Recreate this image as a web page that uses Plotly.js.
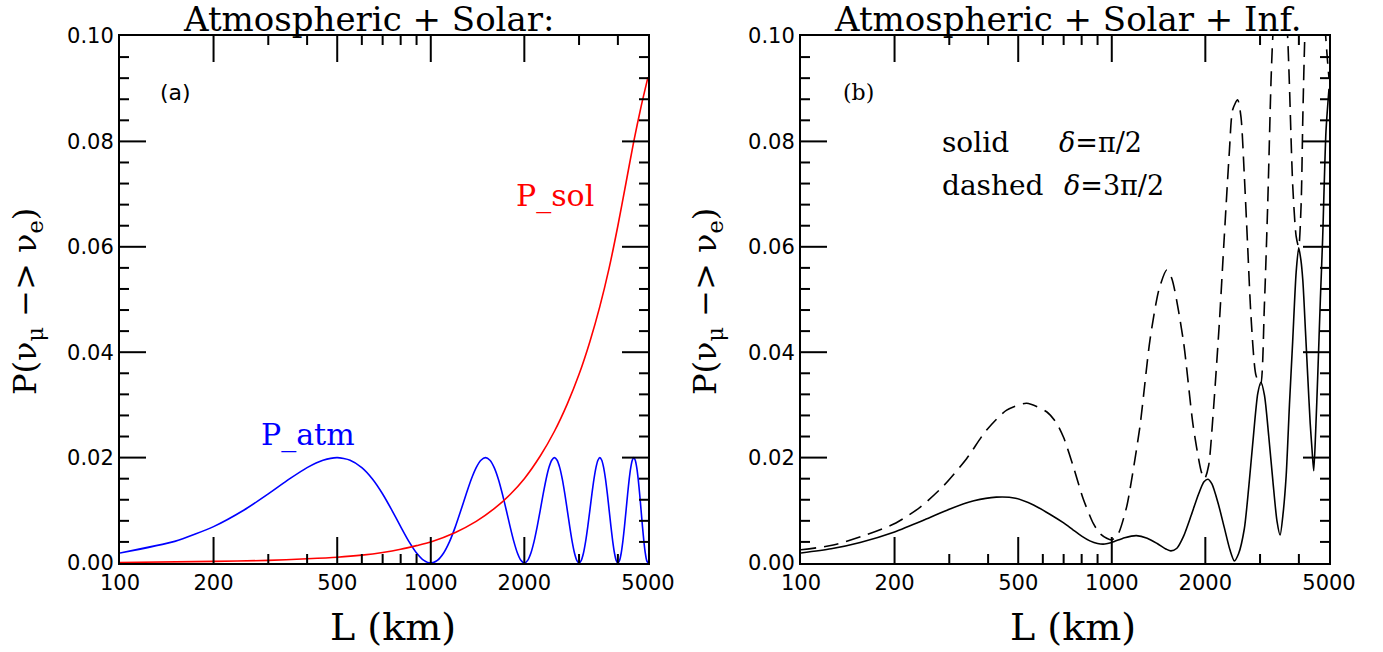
<!DOCTYPE html>
<html>
<head>
<meta charset="utf-8">
<script src="https://cdn.plot.ly/plotly-3.0.1.min.js"></script>
<style>
  html, body { margin: 0; padding: 0; background: #ffffff; }
  #chart { width: 1383px; height: 652px; }
</style>
</head>
<body>
<div id="chart"></div>
<script>
// Baseline (L in km) tick labels
const tickVals = [100, 200, 500, 1000, 2000, 5000];
const tickText = ['100', '200', '500', '1000', '2000', '5000'];

// Tick marks drawn on all four sides of each frame
const xMajorTicks = [200, 500, 1000, 2000];
const xMinorTicks = [300, 400, 600, 700, 800, 900, 3000, 4000];
const yMajorTicks = [0.02, 0.04, 0.06, 0.08];
const yMinorTicks = [0.004, 0.008, 0.012, 0.016, 0.024, 0.028, 0.032, 0.036, 0.044, 0.048, 0.052, 0.056, 0.064, 0.068, 0.072, 0.076, 0.084, 0.088, 0.092, 0.096];

// Panel (a): atmospheric term
const atmL = [
  100, 150, 200, 250, 300, 350, 400, 450, 500, 550, 600, 650, 700, 750, 800, 850, 900, 950,
  1000, 1050, 1100, 1150, 1200, 1250, 1300, 1350, 1400, 1450, 1500, 1550, 1600, 1650, 1700, 1750, 1800, 1850, 1900, 1950,
  2000, 2050, 2100, 2150, 2200, 2250, 2300, 2350, 2400, 2450, 2500, 2550, 2600, 2650, 2700, 2750, 2800, 2850, 2900, 2950,
  3000, 3050, 3100, 3150, 3200, 3250, 3300, 3350, 3400, 3450, 3500, 3550, 3600, 3650, 3700, 3750, 3800, 3850, 3900, 3950,
  4000, 4050, 4100, 4150, 4200, 4250, 4300, 4350, 4400, 4450, 4500, 4550, 4600, 4650, 4700, 4750, 4800, 4850, 4900, 4950,
  5000
];
const atmP = [
  0.0019, 0.0041, 0.0069, 0.0100, 0.0131, 0.0159, 0.0181, 0.0195, 0.0200, 0.0195, 0.0181, 0.0159, 0.0131, 0.0100, 0.0069, 0.0041, 0.0019, 0.0005,
  0.0000, 0.0005, 0.0019, 0.0041, 0.0069, 0.0100, 0.0131, 0.0159, 0.0181, 0.0195, 0.0200, 0.0195, 0.0181, 0.0159, 0.0131, 0.0100, 0.0069, 0.0041, 0.0019, 0.0005,
  0.0000, 0.0005, 0.0019, 0.0041, 0.0069, 0.0100, 0.0131, 0.0159, 0.0181, 0.0195, 0.0200, 0.0195, 0.0181, 0.0159, 0.0131, 0.0100, 0.0069, 0.0041, 0.0019, 0.0005,
  0.0000, 0.0005, 0.0019, 0.0041, 0.0069, 0.0100, 0.0131, 0.0159, 0.0181, 0.0195, 0.0200, 0.0195, 0.0181, 0.0159, 0.0131, 0.0100, 0.0069, 0.0041, 0.0019, 0.0005,
  0.0000, 0.0005, 0.0019, 0.0041, 0.0069, 0.0100, 0.0131, 0.0159, 0.0181, 0.0195, 0.0200, 0.0195, 0.0181, 0.0159, 0.0131, 0.0100, 0.0069, 0.0041, 0.0019, 0.0005,
  0.0000
];

// Panel (a): solar term
const solL = [100, 200, 300, 400, 500, 600, 700, 800, 900, 1000, 1200, 1400, 1600, 1800, 2000, 2250, 2500, 2750, 3000, 3250, 3500, 3750, 4000, 4250, 4500, 4750, 5000];
const solP = [0.0001, 0.0003, 0.0005, 0.0008, 0.0011, 0.0015, 0.0020, 0.0026, 0.0033, 0.0040, 0.0058, 0.0079, 0.0103, 0.0130, 0.0160, 0.0203, 0.0250, 0.0302, 0.0358, 0.0420, 0.0487, 0.0560, 0.0640, 0.0722, 0.0800, 0.0866, 0.0922];

// Panel (b): full probability, delta = pi/2 (solid)
const solidL = [100, 125, 155, 200, 250, 300, 360, 425, 490, 560, 630, 700, 750, 800, 850, 900, 950, 1000, 1100, 1200, 1300, 1400, 1500, 1550, 1620, 1700, 1800, 1900, 1980, 2040, 2100, 2200, 2300, 2400, 2480, 2560, 2670, 2760, 2840, 2950, 3020, 3100, 3200, 3300, 3400, 3480, 3560, 3640, 3730, 3820, 3920, 3995, 4060, 4120, 4200, 4270, 4350, 4410, 4465, 4530, 4600, 4690, 4770, 4890, 5000];
const solidP = [0.0019, 0.0027, 0.0039, 0.0059, 0.0082, 0.0102, 0.0118, 0.0125, 0.0123, 0.0110, 0.0093, 0.0076, 0.0063, 0.0051, 0.0042, 0.0037, 0.0036, 0.0039, 0.0048, 0.0052, 0.0047, 0.0037, 0.0026, 0.0023, 0.0028, 0.0050, 0.0090, 0.0130, 0.0154, 0.0159, 0.0150, 0.0113, 0.0068, 0.0025, 0.0004, 0.0018, 0.0065, 0.0145, 0.0225, 0.0322, 0.0343, 0.0318, 0.0240, 0.0155, 0.0080, 0.0053, 0.0095, 0.0165, 0.0300, 0.0420, 0.0552, 0.0598, 0.0575, 0.0535, 0.0440, 0.0356, 0.0265, 0.0215, 0.0175, 0.0250, 0.0356, 0.0500, 0.0615, 0.0820, 0.0900];

// Panel (b): full probability, delta = 3pi/2 (dashed)
const dashedL = [100, 127, 163, 202, 242, 287, 341, 395, 459, 532, 617, 665, 700, 752, 809, 872, 916, 963, 1000, 1050, 1117, 1144, 1232, 1327, 1420, 1503, 1560, 1698, 1829, 1946, 1990, 2050, 2112, 2218, 2301, 2390, 2449, 2541, 2605, 2670, 2735, 2806, 2911, 3010, 3097, 3176, 3253, 3296, 3400, 3480, 3580, 3681, 3727, 3822, 3920, 3994, 4067, 4120, 4180, 4300, 4470, 4650, 4850, 4950, 5000];
const dashedP = [0.0025, 0.0034, 0.0054, 0.0076, 0.0106, 0.0146, 0.0198, 0.0252, 0.0290, 0.0303, 0.0287, 0.0265, 0.0238, 0.0183, 0.0122, 0.0075, 0.0056, 0.0047, 0.0044, 0.0056, 0.0107, 0.0139, 0.0259, 0.0423, 0.0520, 0.0556, 0.0540, 0.0423, 0.0259, 0.0171, 0.0160, 0.0185, 0.0271, 0.0454, 0.0618, 0.0781, 0.0860, 0.0879, 0.0846, 0.0735, 0.0605, 0.0467, 0.0356, 0.0338, 0.0487, 0.0683, 0.0912, 0.0997, 0.1120, 0.1160, 0.1100, 0.0997, 0.0912, 0.0716, 0.0620, 0.0600, 0.0680, 0.0850, 0.1000, 0.1180, 0.1250, 0.1180, 0.1020, 0.0950, 0.0920];

const W = 1383, H = 652;
const px = v => v / W;
const py = v => 1 - v / H;

const serif = 'DejaVu Serif, Liberation Serif, serif';
const sans = 'DejaVu Sans, Liberation Sans, sans-serif';

function xAxis(domain, anchor) {
  return {
    type: 'log', range: [2, Math.log10(5000)], domain: domain, anchor: anchor,
    tickmode: 'array', tickvals: tickVals, ticktext: tickText, ticks: '',
    showline: true, linewidth: 2, linecolor: '#000', mirror: true,
    showgrid: false, zeroline: false,
    tickfont: { family: sans, size: 21, color: '#000' }
  };
}
function yAxis(domain, anchor) {
  return {
    range: [0, 0.1], domain: domain, anchor: anchor,
    dtick: 0.02, tick0: 0, tickformat: '.2f', ticks: '',
    showline: true, linewidth: 2, linecolor: '#000', mirror: true,
    showgrid: false, zeroline: false,
    tickfont: { family: sans, size: 21, color: '#000' }
  };
}

// Inward tick marks along the frame, placed through each panel's own axes
function tickShapes(xr, yr) {
  const out = [];
  const ln = { color: '#000', width: 2 };
  const xTick = (v, len) => {
    out.push({ type: 'line', xref: xr, x0: v, x1: v, yref: yr + ' domain', ysizemode: 'pixel', yanchor: 0, y0: 0, y1: len, line: ln });
    out.push({ type: 'line', xref: xr, x0: v, x1: v, yref: yr + ' domain', ysizemode: 'pixel', yanchor: 1, y0: 0, y1: -len, line: ln });
  };
  const yTick = (v, len) => {
    out.push({ type: 'line', yref: yr, y0: v, y1: v, xref: xr + ' domain', xsizemode: 'pixel', xanchor: 0, x0: 0, x1: len, line: ln });
    out.push({ type: 'line', yref: yr, y0: v, y1: v, xref: xr + ' domain', xsizemode: 'pixel', xanchor: 1, x0: 0, x1: -len, line: ln });
  };
  xMajorTicks.forEach(v => xTick(v, 26));
  xMinorTicks.forEach(v => xTick(v, 9));
  yMajorTicks.forEach(v => yTick(v, 26));
  yMinorTicks.forEach(v => yTick(v, 9));
  return out;
}

const traces = [
  { x: atmL, y: atmP, xaxis: 'x', yaxis: 'y', mode: 'lines', line: { color: '#0000ff', width: 1.6, shape: 'spline', smoothing: 0.6 }, hoverinfo: 'skip' },
  { x: solL, y: solP, xaxis: 'x', yaxis: 'y', mode: 'lines', line: { color: '#ff0000', width: 1.6, shape: 'spline', smoothing: 0.8 }, hoverinfo: 'skip' },
  { x: solidL, y: solidP, xaxis: 'x2', yaxis: 'y2', mode: 'lines', line: { color: '#000', width: 1.6, shape: 'spline', smoothing: 0.7 }, hoverinfo: 'skip' },
  { x: dashedL, y: dashedP, xaxis: 'x2', yaxis: 'y2', mode: 'lines', line: { color: '#000', width: 1.6, dash: '15px,8px', shape: 'spline', smoothing: 0.7 }, hoverinfo: 'skip' }
];

const yDom = [(H - 563) / H, (H - 36) / H];

function ann(text, x, y, opts) {
  return Object.assign({
    text: text, xref: 'paper', yref: 'paper', x: px(x), y: py(y),
    xanchor: 'center', yanchor: 'middle', showarrow: false,
    font: { family: serif, size: 28, color: '#000' }
  }, opts || {});
}

const yLabel = 'P(ν<sub>μ</sub> −> ν<sub>e</sub>)';

const layout = {
  width: W, height: H,
  margin: { l: 0, r: 0, t: 0, b: 0 },
  paper_bgcolor: '#ffffff', plot_bgcolor: '#ffffff',
  showlegend: false,
  xaxis: xAxis([120 / W, 648 / W], 'y'),
  yaxis: yAxis(yDom, 'x'),
  xaxis2: xAxis([801 / W, 1329 / W], 'y2'),
  yaxis2: yAxis(yDom, 'x2'),
  shapes: tickShapes('x', 'y').concat(tickShapes('x2', 'y2')),
  annotations: [
    ann('Atmospheric + Solar:', 368, 19, { font: { family: serif, size: 34, color: '#000' } }),
    ann('Atmospheric + Solar + Inf.', 1068, 19, { font: { family: serif, size: 34, color: '#000' } }),
    ann('L (km)', 393, 627, { font: { family: serif, size: 38, color: '#000' } }),
    ann('L (km)', 1073, 627, { font: { family: serif, size: 38, color: '#000' } }),
    ann(yLabel, 27, 302, { textangle: -90, font: { family: serif, size: 32, color: '#000' } }),
    ann(yLabel, 707, 302, { textangle: -90, font: { family: serif, size: 32, color: '#000' } }),
    ann('(a)', 175, 93, { font: { family: sans, size: 22, color: '#000' } }),
    ann('(b)', 858, 93, { font: { family: serif, size: 22, color: '#000' } }),
    ann('P_atm', 308, 435, { font: { family: serif, size: 30, color: '#0000ff' } }),
    ann('P_sol', 555, 196, { font: { family: serif, size: 30, color: '#ff0000' } }),
    ann('solid', 940, 143, { xanchor: 'left', font: { family: serif, size: 28, color: '#000' } }),
    ann('<i>δ</i>=π/2', 1057, 143, { xanchor: 'left', font: { family: serif, size: 27, color: '#000' } }),
    ann('dashed', 940, 185, { xanchor: 'left', font: { family: serif, size: 28, color: '#000' } }),
    ann('<i>δ</i>=3π/2', 1062, 185, { xanchor: 'left', font: { family: serif, size: 27, color: '#000' } })
  ]
};

Plotly.newPlot('chart', traces, layout, { displayModeBar: false });
</script>
</body>
</html>
